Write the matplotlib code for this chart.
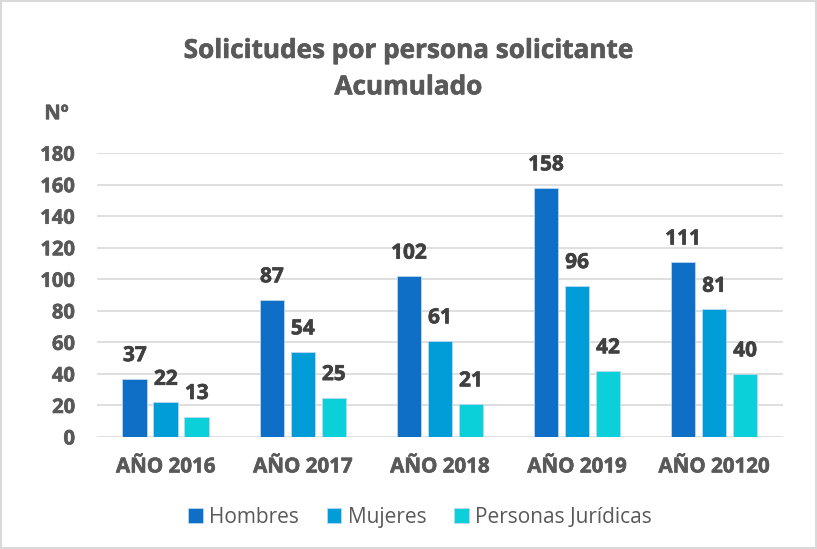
import numpy as np
import matplotlib
matplotlib.use("Agg")
from matplotlib import pyplot as plt
from matplotlib import patheffects as pe

categories = ["AÑO 2016", "AÑO 2017", "AÑO 2018", "AÑO 2019", "AÑO 20120"]
hombres = [37, 87, 102, 158, 111]
mujeres = [22, 54, 61, 96, 81]
juridicas = [13, 25, 21, 42, 40]
series_names = ["Hombres", "Mujeres", "Personas Jurídicas"]
colors = ["#0F6FC6", "#009DD9", "#0BD0D9"]

bold_font = "Open Sans"
text_grey = "#595959"
label_grey = "#404040"


def heavy(color):
    # Open Sans bold comes out a bit thin, thicken it a touch
    return [pe.withStroke(linewidth=0.45, foreground=color)]


fig = plt.figure(figsize=(8.17, 5.49), dpi=100)
fig.patch.set_edgecolor("#D9D9D9")
fig.patch.set_linewidth(1.5)
ax = fig.add_axes([0.119, 0.204, 0.839, 0.517])

x = np.arange(len(categories))
width = 0.18
step = 0.226
for i, (vals, name, col) in enumerate(zip([hombres, mujeres, juridicas], series_names, colors)):
    pos = x + (i - 1) * step
    bars = ax.bar(pos, vals, width=width, color=col, edgecolor="#BDD7EE",
                  linewidth=0.6, label=name, zorder=3)
    for b, v in zip(bars, vals):
        ax.annotate(str(v), (b.get_x() + b.get_width() / 2, v),
                    xytext=(0, 9), textcoords="offset points",
                    ha="center", va="bottom", fontsize=15, fontweight="bold",
                    family=bold_font, color=label_grey,
                    path_effects=heavy(label_grey))

ax.set_xlim(-0.5, len(categories) - 0.5)
ax.set_ylim(0, 180)
ax.set_yticks(range(0, 181, 20))
ax.yaxis.grid(True, color="#D9D9D9", linewidth=1.2, zorder=0)
ax.set_axisbelow(True)
for s in ax.spines.values():
    s.set_visible(False)
ax.tick_params(length=0)
ax.tick_params(axis="y", pad=16)
ax.tick_params(axis="x", pad=14)
ax.set_xticks(x)
ax.set_xticklabels(categories)
for lbl in ax.get_xticklabels():
    lbl.set_fontsize(14.8)
for lbl in ax.get_yticklabels():
    lbl.set_fontsize(14.5)
for lbl in ax.get_xticklabels() + ax.get_yticklabels():
    lbl.set_fontfamily(bold_font)
    lbl.set_fontweight("bold")
    lbl.set_color(text_grey)
    lbl.set_path_effects(heavy(text_grey))

fig.text(0.50, 0.875, "Solicitudes por persona solicitante\nAcumulado",
         ha="center", va="center", fontsize=18.8, fontweight="bold",
         family=bold_font, color=text_grey, linespacing=1.45,
         path_effects=heavy(text_grey))
fig.text(0.069, 0.792, "Nº", ha="center", va="center", fontsize=14.5,
         fontweight="bold", family=bold_font, color=text_grey,
         path_effects=heavy(text_grey))

leg = fig.legend(loc="center", bbox_to_anchor=(0.514, 0.058), ncol=3, frameon=False,
                 prop={"family": "Open Sans", "size": 15}, handlelength=0.7,
                 handleheight=0.7, columnspacing=1.35, handletextpad=0.3)
for t in leg.get_texts():
    t.set_color(text_grey)

fig.savefig("out.png", dpi=100)
